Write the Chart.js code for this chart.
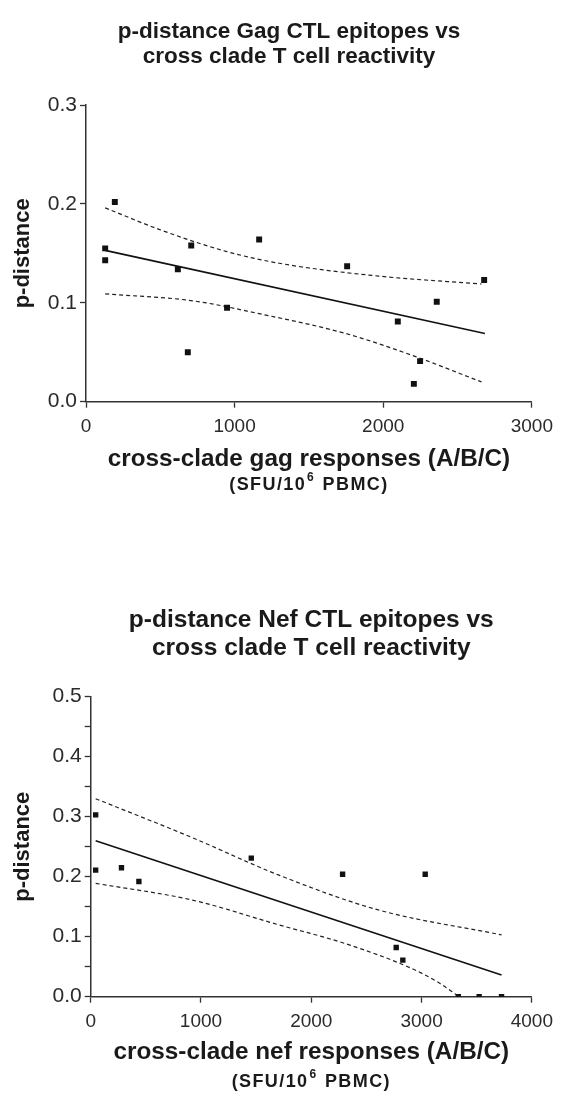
<!DOCTYPE html>
<html>
<head>
<meta charset="utf-8">
<script src="https://cdn.jsdelivr.net/npm/chart.js@4.4.1/dist/chart.umd.min.js"></script>
<style>
  html, body { margin: 0; padding: 0; background: #fff; }
  body { width: 561px; height: 1097px; position: relative; overflow: hidden; }
  canvas { position: absolute; left: 0; }
  #c1 { top: 0; }
  #c2 { top: 548px; }
</style>
</head>
<body>
<canvas id="c1" width="561" height="548"></canvas>
<canvas id="c2" width="561" height="549"></canvas>
<script>
// ---------- Gag panel data ----------
const gagTitle = ['p-distance Gag CTL epitopes vs', 'cross clade T cell reactivity'];
const gagXTitle = 'cross-clade gag responses (A/B/C)';
const gagX = [129, 129, 194, 618, 708, 685, 949, 1165, 1757, 2679, 2360, 2098, 2248, 2206];
const gagY = [0.155, 0.143, 0.202, 0.134, 0.158, 0.050, 0.095, 0.164, 0.137, 0.123, 0.101, 0.081, 0.041, 0.018];
const gagFitX = [129, 2684];
const gagFitY = [0.153, 0.069];
const gagUpperX = [129, 496, 942, 1299, 1969, 2661];
const gagUpperY = [0.196, 0.174, 0.152, 0.140, 0.127, 0.119];
const gagLowerX = [129, 719, 1165, 1746, 2192, 2661];
const gagLowerY = [0.109, 0.102, 0.089, 0.069, 0.047, 0.020];
const gagXTicks = [0, 1000, 2000, 3000];
const gagYTicks = [0, 0.1, 0.2, 0.3];

// ---------- Nef panel data ----------
const nefTitle = ['p-distance Nef CTL epitopes vs', 'cross clade T cell reactivity'];
const nefXTitle = 'cross-clade nef responses (A/B/C)';
const nefX = [45, 45, 279, 437, 1456, 2284, 3033, 2770, 2830, 3333, 3522, 3725];
const nefY = [0.303, 0.211, 0.215, 0.192, 0.231, 0.204, 0.204, 0.082, 0.061, 0.0, 0.0, 0.0];
const nefFitX = [45, 3725];
const nefFitY = [0.260, 0.036];
const nefUpperX = [45, 922, 1701, 2600, 3725];
const nefUpperY = [0.330, 0.265, 0.203, 0.145, 0.103];
const nefLowerX = [45, 922, 1701, 2300, 2899, 3150, 3340];
const nefLowerY = [0.189, 0.161, 0.120, 0.089, 0.048, 0.024, 0.0];
const nefXTicks = [0, 1000, 2000, 3000, 4000];
const nefYTicks = [0, 0.05, 0.1, 0.15, 0.2, 0.25, 0.3, 0.35, 0.4, 0.45, 0.5];
const nefYLabelled = [0, 0.1, 0.2, 0.3, 0.4, 0.5];

const unitsMain = '(SFU/10';
const unitsSup = '6';
const unitsTail = ' PBMC)';

const FONT = "'Liberation Sans', Arial, Helvetica, sans-serif";
const INK = '#1a1a1a';
const AXIS = '#333333';

function pts(xs, ys) { return xs.map((x, i) => ({ x: x, y: ys[i] })); }

const subtitlePlugin = {
  id: 'unitsSubtitle',
  afterDraw(chart, args, opts) {
    const ctx = chart.ctx;
    const ca = chart.chartArea;
    const cx = (ca.left + ca.right) / 2;
    const size = opts.size;
    const ls = opts.spacing;
    ctx.save();
    ctx.fillStyle = INK;
    ctx.textBaseline = 'middle';
    ctx.textAlign = 'left';
    if ('letterSpacing' in ctx) ctx.letterSpacing = ls + 'px';
    const fMain = 'bold ' + size + 'px ' + FONT;
    const fSup = 'bold ' + Math.round(size * 0.68) + 'px ' + FONT;
    ctx.font = fMain;
    const w1 = ctx.measureText(unitsMain).width;
    const w3 = ctx.measureText(unitsTail).width;
    ctx.font = fSup;
    const w2 = ctx.measureText(unitsSup).width + 2;
    let x = cx - (w1 + w2 + w3) / 2;
    const y = opts.y;
    ctx.font = fMain;
    ctx.fillText(unitsMain, x, y);
    x += w1;
    ctx.font = fSup;
    ctx.fillText(unitsSup, x + 1, y - size * 0.42);
    x += w2;
    ctx.font = fMain;
    ctx.fillText(unitsTail, x, y);
    ctx.restore();
  }
};

function makeChart(canvasId, cfg) {
  const datasets = [
    {
      data: pts(cfg.x, cfg.y), showLine: false,
      pointStyle: 'rect', pointRadius: cfg.pointR, pointHoverRadius: cfg.pointR,
      pointBackgroundColor: '#111', pointBorderWidth: 0, borderColor: '#111'
    },
    {
      data: pts(cfg.fitX, cfg.fitY), showLine: true, pointRadius: 0,
      borderColor: '#111', borderWidth: 1.6, fill: false
    },
    {
      data: pts(cfg.upX, cfg.upY), showLine: true, pointRadius: 0,
      borderColor: '#222', borderWidth: 1.2, borderDash: [4, 3], fill: false,
      cubicInterpolationMode: 'monotone'
    },
    {
      data: pts(cfg.loX, cfg.loY), showLine: true, pointRadius: 0,
      borderColor: '#222', borderWidth: 1.2, borderDash: [4, 3], fill: false,
      cubicInterpolationMode: 'monotone'
    }
  ];
  return new Chart(document.getElementById(canvasId), {
    type: 'scatter',
    data: { datasets: datasets },
    plugins: [subtitlePlugin],
    options: {
      responsive: false,
      animation: false,
      events: [],
      layout: { padding: { left: cfg.padLeft, right: cfg.padRight, top: 0, bottom: 0 } },
      plugins: {
        legend: { display: false },
        tooltip: { enabled: false },
        title: {
          display: true,
          fullSize: cfg.titleFull,
          text: cfg.title,
          color: INK,
          font: { family: FONT, size: cfg.titleSize, weight: 'bold', lineHeight: cfg.titleLH / cfg.titleSize },
          padding: { top: cfg.titleTop, bottom: cfg.titleBottom }
        },
        unitsSubtitle: { y: cfg.unitsY, size: 18, spacing: 1.4 }
      },
      scales: {
        x: {
          type: 'linear',
          min: cfg.xTicks[0], max: cfg.xTicks[cfg.xTicks.length - 1],
          afterBuildTicks: s => { s.ticks = cfg.xTicks.map(v => ({ value: v })); },
          afterFit: s => { s.height = cfg.xAxisH; },
          ticks: {
            color: '#2a2a2a', padding: 8, maxRotation: 0, autoSkip: false,
            font: { family: FONT, size: 19 },
            callback: v => String(v)
          },
          grid: { display: true, drawOnChartArea: false, drawTicks: true, tickLength: 6, tickColor: AXIS, tickWidth: 1.3 },
          border: { display: true, color: AXIS, width: 1.5 },
          title: {
            display: true, text: cfg.xTitle, color: INK,
            font: { family: FONT, size: 24.3, weight: 'bold', lineHeight: 1.2 },
            padding: { top: 0, bottom: cfg.xTitleBottom }
          }
        },
        y: {
          type: 'linear',
          min: cfg.yTicks[0], max: cfg.yTicks[cfg.yTicks.length - 1],
          afterBuildTicks: s => { s.ticks = cfg.yTicks.map(v => ({ value: v })); },
          afterFit: s => { s.width = cfg.yAxisW; },
          ticks: {
            color: '#2a2a2a', padding: 3, autoSkip: false,
            font: { family: FONT, size: 21 },
            callback: v => (cfg.yLabelled.some(t => Math.abs(t - v) < 1e-9) ? v.toFixed(1) : '')
          },
          grid: { display: true, drawOnChartArea: false, drawTicks: true, tickLength: 6, tickColor: AXIS, tickWidth: 1.3 },
          border: { display: true, color: AXIS, width: 1.5 },
          title: {
            display: true, text: 'p-distance', color: INK,
            font: { family: FONT, size: 22, weight: 'bold', lineHeight: 1.2 },
            padding: { top: cfg.yTitlePad, bottom: 0 }
          }
        }
      }
    }
  });
}

makeChart('c1', {
  title: gagTitle, xTitle: gagXTitle,
  x: gagX, y: gagY, fitX: gagFitX, fitY: gagFitY,
  upX: gagUpperX, upY: gagUpperY, loX: gagLowerX, loY: gagLowerY,
  xTicks: gagXTicks, yTicks: gagYTicks, yLabelled: gagYTicks,
  pointR: 4.2, padRight: 27, padLeft: 44,
  titleFull: true, titleSize: 22.5, titleLH: 25, titleTop: 19.2, titleBottom: 35.8,
  xAxisH: 146.3, xTitleBottom: 74.6, unitsY: 485,
  yAxisW: 42, yTitlePad: -34.2
});

makeChart('c2', {
  title: nefTitle, xTitle: nefXTitle,
  x: nefX, y: nefY, fitX: nefFitX, fitY: nefFitY,
  upX: nefUpperX, upY: nefUpperY, loX: nefLowerX, loY: nefLowerY,
  xTicks: nefXTicks, yTicks: nefYTicks, yLabelled: nefYLabelled,
  pointR: 3.8, padRight: 24.3, padLeft: 0,
  titleFull: false, titleSize: 24.5, titleLH: 28, titleTop: 58.5, titleBottom: 34.2,
  xAxisH: 100.3, xTitleBottom: 30.6, unitsY: 534,
  yAxisW: 90.7, yTitlePad: 9.8
});
</script>
</body>
</html>
